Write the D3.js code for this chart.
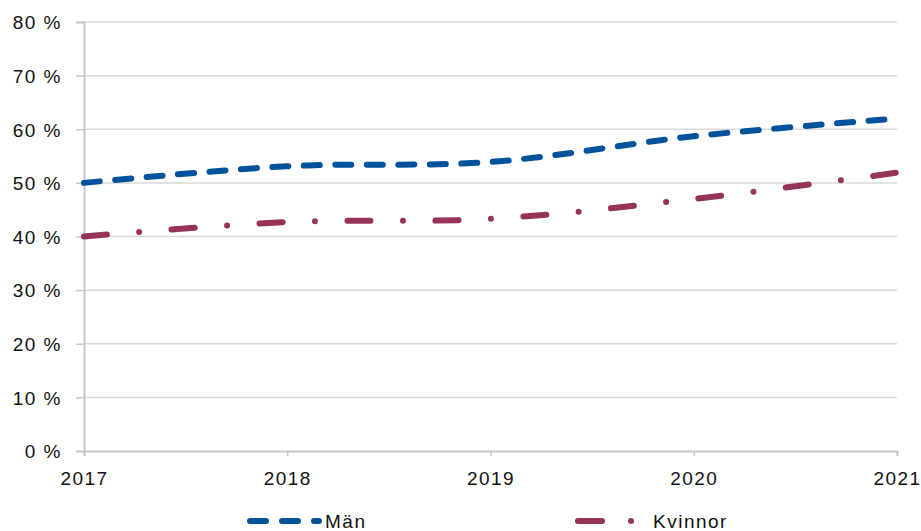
<!DOCTYPE html>
<html><head><meta charset="utf-8">
<script src="https://cdn.jsdelivr.net/npm/d3@7"></script>
<style>body{margin:0;background:#fff;} text{font-family:"Liberation Sans",Arial,sans-serif;}</style>
</head><body><svg id="c" width="921" height="531"></svg>
<script>
const years = [2017, 2018, 2019, 2020, 2021];
const man = [50.0, 53.1, 53.9, 58.7, 62.0];
const kvinnor = [40.0, 42.7, 43.3, 47.0, 51.9];
const yTicks = [0,10,20,30,40,50,60,70,80];
const seriesNames = ["Män","Kvinnor"];
const colors = ["#00539a","#963358"];

const svg = d3.select("#c");
const x = d3.scaleLinear().domain([2017,2021]).range([84,897]);
const y = d3.scaleLinear().domain([0,80]).range([451,22]);

// grid
svg.append("g").selectAll("line").data(yTicks.filter(d=>d>0)).join("line")
  .attr("x1",84).attr("x2",897).attr("y1",d=>y(d)).attr("y2",d=>y(d))
  .attr("stroke","#d9d9d9").attr("stroke-width",1.5);

// y axis
const ya = svg.append("g").attr("transform","translate(84,0)")
  .call(d3.axisLeft(y).tickValues(yTicks).tickSize(8).tickPadding(14).tickFormat(d=>d+" %"));
ya.select(".domain").attr("stroke","#c8c8c8").attr("stroke-width",2);
ya.selectAll(".tick line").attr("stroke","#c8c8c8").attr("stroke-width",1.5);
ya.selectAll("text").attr("font-size","19px").attr("fill","#111").style("letter-spacing","1.5px")
  .attr("font-family","Liberation Sans, Arial, sans-serif").attr("dy","0.36em");

// x axis
const xa = svg.append("g").attr("transform","translate(0,451)")
  .call(d3.axisBottom(x).tickValues(years).tickSize(5).tickPadding(16).tickFormat(d3.format("d")));
xa.select(".domain").attr("stroke","#c8c8c8").attr("stroke-width",2);
xa.selectAll(".tick line").attr("stroke","#c8c8c8").attr("stroke-width",1.5);
xa.selectAll("text").attr("font-size","19px").attr("fill","#111").style("letter-spacing","1.4px")
  .attr("font-family","Liberation Sans, Arial, sans-serif");

const line = d3.line().x((d,i)=>x(years[i])).y(d=>y(d)).curve(d3.curveCatmullRom.alpha(0.5));
const dashes = ["16,15.5","23,32.5,0,32.5"];
[man,kvinnor].forEach((s,i)=>{
  svg.append("path").datum(s).attr("d",line).attr("fill","none")
    .attr("stroke",colors[i]).attr("stroke-width",6).attr("stroke-linecap","round")
    .attr("stroke-dasharray",dashes[i]);
});

// legend
const ly = 521;
const leg = [{x1:250,x2:319,tx:325},{x1:578,x2:640,tx:653}];
leg.forEach((l,i)=>{
  svg.append("line").attr("x1",l.x1).attr("x2",l.x2).attr("y1",ly).attr("y2",ly)
    .attr("stroke",colors[i]).attr("stroke-width",6).attr("stroke-linecap","round")
    .attr("stroke-dasharray",i==0?"16,16":"24,29,0,100");
  svg.append("text").attr("x",l.tx).attr("y",ly).attr("dy","0.36em").attr("font-size","19px")
    .attr("fill","#111").style("letter-spacing","1.5px").text(seriesNames[i]);
});
</script></body></html>
